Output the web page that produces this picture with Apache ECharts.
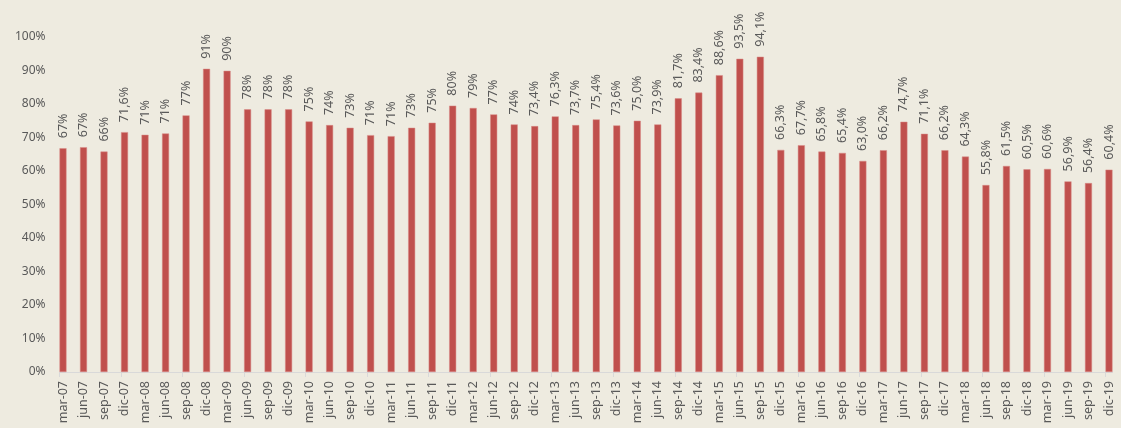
<!DOCTYPE html>
<html><head><meta charset="utf-8">
<script src="https://cdn.jsdelivr.net/npm/echarts@6/dist/echarts.min.js"></script>
<style>html,body{margin:0;padding:0;background:#EEEBE0;}#c{width:1121px;height:428px;}</style>
</head><body><div id="c"></div>
<script>
const categories = ["mar-07","jun-07","sep-07","dic-07","mar-08","jun-08","sep-08","dic-08","mar-09","jun-09","sep-09","dic-09","mar-10","jun-10","sep-10","dic-10","mar-11","jun-11","sep-11","dic-11","mar-12","jun-12","sep-12","dic-12","mar-13","jun-13","sep-13","dic-13","mar-14","jun-14","sep-14","dic-14","mar-15","jun-15","sep-15","dic-15","mar-16","jun-16","sep-16","dic-16","mar-17","jun-17","sep-17","dic-17","mar-18","jun-18","sep-18","dic-18","mar-19","jun-19","sep-19","dic-19"];
const values = [66.8,67.1,65.8,71.6,70.8,71.2,76.6,90.5,89.9,78.4,78.4,78.4,74.8,73.7,72.9,70.7,70.4,72.9,74.4,79.5,78.8,76.9,73.9,73.4,76.3,73.7,75.4,73.6,75.0,73.9,81.7,83.4,88.6,93.5,94.1,66.3,67.7,65.8,65.4,63.0,66.2,74.7,71.1,66.2,64.3,55.8,61.5,60.5,60.6,56.9,56.4,60.4];
const labels = ["67%","67%","66%","71,6%","71%","71%","77%","91%","90%","78%","78%","78%","75%","74%","73%","71%","71%","73%","75%","80%","79%","77%","74%","73,4%","76,3%","73,7%","75,4%","73,6%","75,0%","73,9%","81,7%","83,4%","88,6%","93,5%","94,1%","66,3%","67,7%","65,8%","65,4%","63,0%","66,2%","74,7%","71,1%","66,2%","64,3%","55,8%","61,5%","60,5%","60,6%","56,9%","56,4%","60,4%"];
const yTicks = [0,10,20,30,40,50,60,70,80,90,100];

const chart = echarts.init(document.getElementById('c'));
const font = 'Noto Sans';
chart.setOption({
  backgroundColor: '#EEEBE0',
  animation: false,
  grid: [
    {left: 59.5, right: 15.5, top: 37, bottom: 56},
    {left: 63, right: 12, top: 37, bottom: 56}
  ],
  xAxis: [{
    type: 'category', data: categories, boundaryGap: false, gridIndex: 0,
    axisLine: {lineStyle: {color: '#D9D9D9', width: 1}},
    axisTick: {show: true, length: 5, lineStyle: {color: '#D9D9D9'}},
    axisLabel: {show: false}
  }, {
    type: 'category', data: categories, boundaryGap: false, gridIndex: 1,
    axisLine: {show: false}, axisTick: {show: false},
    axisLabel: {rotate: 90, interval: 0, color: '#595959', fontSize: 12.5, fontFamily: font, margin: 9}
  }],
  yAxis: [{
    type: 'value', min: yTicks[0], max: yTicks[yTicks.length-1], interval: 10, gridIndex: 0,
    splitLine: {show: false},
    axisLine: {show: false}, axisTick: {show: false},
    axisLabel: {color: '#595959', fontSize: 12, fontFamily: font, margin: 14, formatter: v => v + '%'}
  }, {
    type: 'value', min: 0, max: 100, gridIndex: 1, show: false
  }],
  series: [{
    type: 'bar', data: [], barWidth: 7, barGap: 0, silent: true
  }, {
    type: 'bar', data: values, barWidth: 7, barGap: 0, clip: false,
    itemStyle: {color: '#C0504D', borderColor: '#D98A87', borderWidth: 0.5},
    label: {
      show: true, position: 'top', rotate: 90, align: 'left', verticalAlign: 'middle', distance: 10,
      color: '#595959', fontSize: 12.5, fontFamily: font,
      formatter: p => labels[p.dataIndex]
    }
  }],
  graphic: [{
    type: 'line', shape: {x1: 1105.5, y1: 372.5, x2: 1113, y2: 372.5},
    style: {stroke: '#D9D9D9', lineWidth: 1}
  }]
});
</script></body></html>
